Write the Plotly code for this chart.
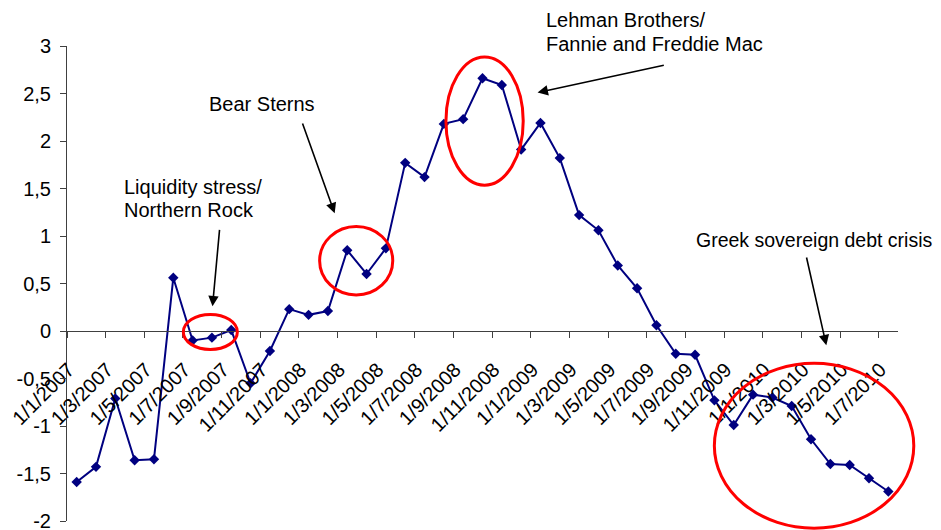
import plotly.graph_objects as go

# monthly values, Jan 2007 .. Jul 2010
values = [-1.59, -1.43, -0.71, -1.36, -1.35, 0.56, -0.10, -0.07, 0.01, -0.55,
          -0.21, 0.23, 0.17, 0.21, 0.85, 0.60, 0.87, 1.77, 1.62, 2.18,
          2.23, 2.66, 2.59, 1.91, 2.19, 1.82, 1.22, 1.06, 0.69, 0.45,
          0.06, -0.24, -0.25, -0.73, -0.99, -0.67, -0.70, -0.79, -1.14, -1.40,
          -1.41, -1.55, -1.69]
months = list(range(len(values)))

tick_labels = ["1/1/2007", "1/3/2007", "1/5/2007", "1/7/2007", "1/9/2007", "1/11/2007",
               "1/1/2008", "1/3/2008", "1/5/2008", "1/7/2008", "1/9/2008", "1/11/2008",
               "1/1/2009", "1/3/2009", "1/5/2009", "1/7/2009", "1/9/2009", "1/11/2009",
               "1/1/2010", "1/3/2010", "1/5/2010", "1/7/2010"]
y_ticks = [3, 2.5, 2, 1.5, 1, 0.5, 0, -0.5, -1, -1.5, -2]
y_labels = ["3", "2,5", "2", "1,5", "1", "0,5", "0", "-0,5", "-1", "-1,5", "-2"]

FONT = "Liberation Sans, Arial, sans-serif"
NAVY = "#000080"
AXIS = "#404040"

fig = go.Figure()
fig.add_trace(go.Scatter(x=months, y=values, mode="lines+markers",
                         line=dict(color=NAVY, width=2),
                         marker=dict(symbol="diamond", size=8, color=NAVY),
                         cliponaxis=False, showlegend=False))
# dummy trace so the tick-mark axis gets drawn
fig.add_trace(go.Scatter(x=[months[0]], y=[0], xaxis="x2", mode="markers",
                         marker=dict(opacity=0), showlegend=False, hoverinfo="skip"))

rng = [-0.5, len(values) - 0.5]
# page body has an 8px margin, so the figure is trimmed by 8px
fig.update_layout(
    width=933, height=522,
    margin=dict(l=59, r=43, t=38, b=9),
    paper_bgcolor="white", plot_bgcolor="white",
    font=dict(family=FONT, size=20, color="black"),
    xaxis=dict(range=rng, anchor="free", position=0.4,
               tickvals=months[::2], ticktext=tick_labels, tickangle=-45,
               ticks="", ticklabelstandoff=18, ticklabelshift=-8,
               ticklabeloverflow="allow",
               showline=True, linecolor=AXIS, linewidth=1,
               showgrid=False, zeroline=False, automargin=False,
               tickfont=dict(size=20)),
    xaxis2=dict(range=rng, overlaying="x", anchor="free", position=0.4,
                tickvals=[m - 0.5 for m in months[::2]], ticks="outside",
                ticklen=6, tickcolor=AXIS, showticklabels=False,
                showline=False, showgrid=False, zeroline=False, automargin=False),
    yaxis=dict(range=[-2, 3], tickvals=y_ticks, ticktext=y_labels,
               ticks="outside", ticklen=6, tickcolor=AXIS, ticklabelstandoff=5,
               ticklabeloverflow="allow",
               showline=True, linecolor=AXIS, linewidth=1,
               showgrid=False, zeroline=False, automargin=False,
               tickfont=dict(size=20)),
)

# event labels, one annotation per line (paper coords of the plot area)
labels = [
    (0.066, 0.703, "Liquidity stress/", 20),
    (0.066, 0.655, "Northern Rock", 20),
    (0.168, 0.878, "Bear Sterns", 20),
    (0.574, 1.055, "Lehman Brothers/", 20),
    (0.574, 1.004, "Fannie and Freddie Mac", 20),
    (0.755, 0.592, "Greek sovereign debt crisis", 19.5),
]
for lx, ly, txt, fs in labels:
    fig.add_annotation(x=lx, y=ly, xref="paper", yref="paper", text=txt, showarrow=False,
                       xanchor="left", yanchor="middle", align="left", font=dict(size=fs))

# arrows: (tip x, tip y, tail x, tail y)
arrows = [
    (7.03, 0.26, 7.40, 1.08),
    (13.35, 1.24, 11.66, 2.20),
    (23.85, 2.51, 30.46, 2.80),
    (38.79, -0.15, 37.75, 0.79),
]
for tx, ty, sx, sy in arrows:
    fig.add_annotation(x=tx, y=ty, ax=sx, ay=sy, axref="x", ayref="y", text="",
                       showarrow=True, arrowhead=2, arrowsize=1.3, arrowwidth=1.6,
                       arrowcolor="black")

# red ellipses (paper coords so the last one can spill past the axes)
ellipses = [
    (0.140, 0.361, 0.205, 0.435),
    (0.304, 0.476, 0.392, 0.620),
    (0.456, 0.707, 0.549, 0.977),
    (0.779, -0.015, 1.019, 0.332),
]
for x0, y0, x1, y1 in ellipses:
    fig.add_shape(type="circle", xref="paper", yref="paper", x0=x0, y0=y0, x1=x1, y1=y1,
                  line=dict(color="#FF0000", width=3))

fig.write_html("out.html")
